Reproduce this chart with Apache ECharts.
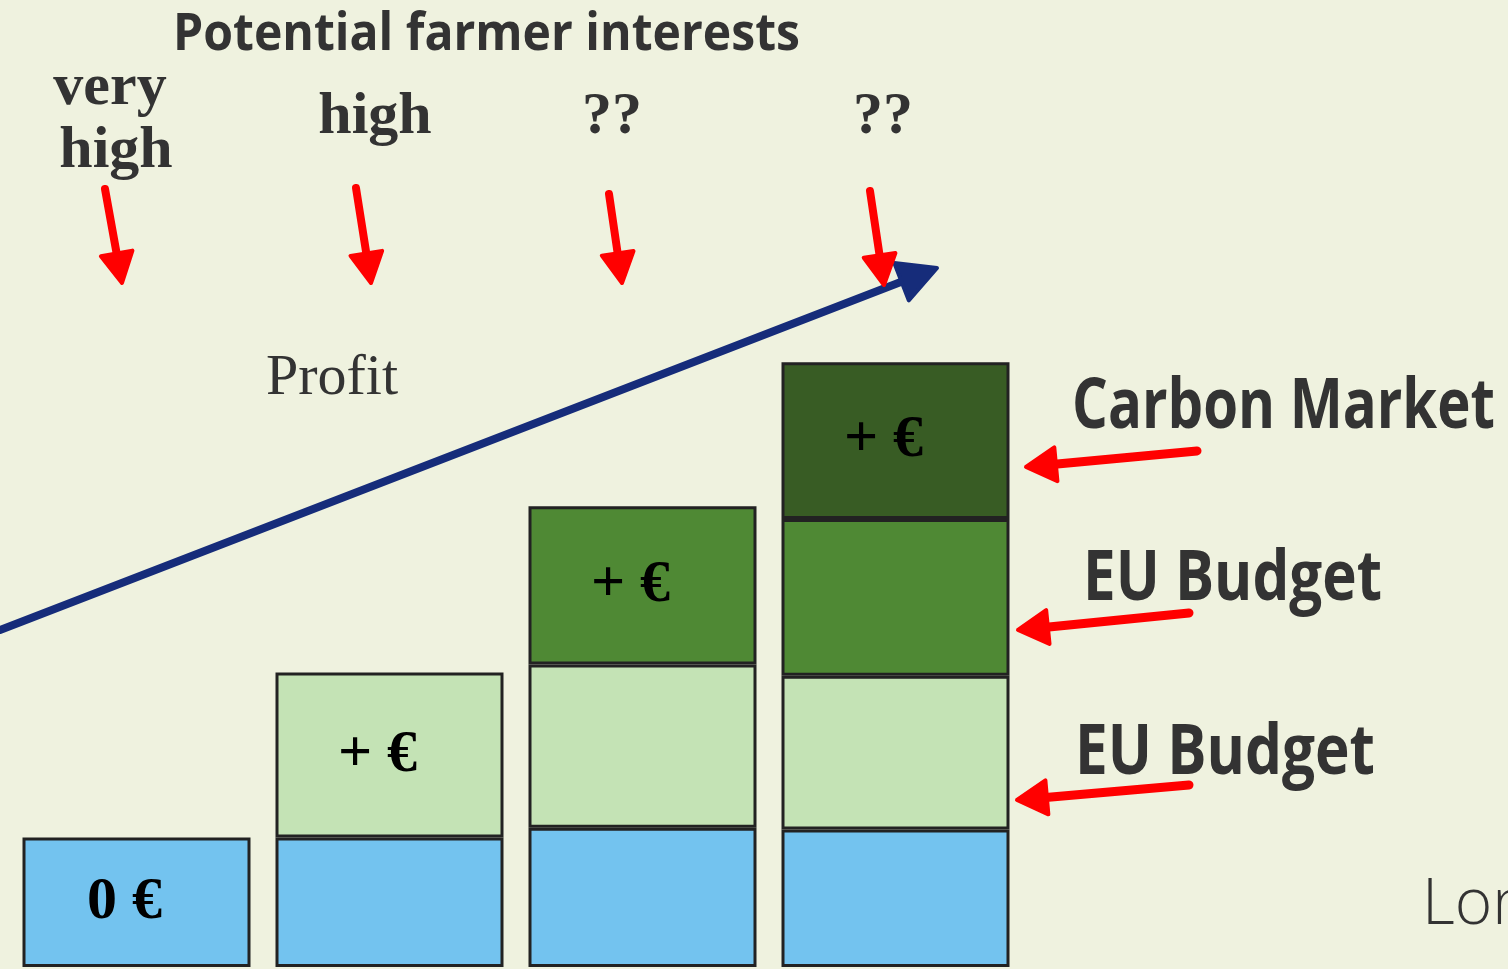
<!DOCTYPE html>
<html>
<head>
<meta charset="utf-8">
<script src="https://cdn.jsdelivr.net/npm/echarts@6/dist/echarts.min.js"></script>
<style>
  html, body { margin: 0; padding: 0; background: #eff2df; }
  #chart { width: 1508px; height: 969px; }
</style>
</head>
<body>
<div id="chart"></div>
<script>
// stacked steps, arbitrary units
const categories = ["step1", "step2", "step3", "step4"];
const baseValues = [0.81, 0.81, 0.87, 0.86];
const budget1Values = ["-", 1.03, 1.02, 0.96];
const budget2Values = ["-", "-", 0.99, 0.98];
const carbonValues = ["-", "-", "-", 0.98];

const baseLabels = ["0 €", "", "", ""];
const budget1Labels = ["", "+ €", "", ""];
const budget2Labels = ["", "", "+ €", ""];
const carbonLabels = ["", "", "", "+ €"];

const chart = echarts.init(document.getElementById("chart"));

const SERIF = "'Liberation Serif', 'DejaVu Serif', serif";
const SANS = "'Open Sans', 'Noto Sans', sans-serif";

const measureCtx = document.createElement("canvas").getContext("2d");

// arrow = line + triangular head
function arrow (sx, sy, tx, ty, color, width, headLen, headHalf) {
  const dx = tx - sx, dy = ty - sy;
  const len = Math.sqrt(dx * dx + dy * dy);
  const ux = dx / len, uy = dy / len;
  const nx = -uy, ny = ux;
  const bx = tx - ux * headLen, by = ty - uy * headLen;
  return [
    {
      type: "line",
      shape: { x1: sx, y1: sy, x2: bx + ux * 4, y2: by + uy * 4 },
      style: { stroke: color, lineWidth: width, lineCap: "round" },
    },
    {
      type: "polygon",
      shape: { points: [[tx, ty], [bx + nx * headHalf, by + ny * headHalf], [bx - nx * headHalf, by - ny * headHalf]] },
      style: { fill: color, stroke: color, lineWidth: 4, lineJoin: "round" },
    },
  ];
}

function txt (x, y, text, font, size, weight, align) {
  return {
    type: "text",
    x: x,
    y: y,
    style: {
      text: text,
      fill: "#333333",
      font: weight + " " + size + "px " + font,
      textAlign: align || "center",
      textVerticalAlign: "middle",
    },
  };
}

// text squeezed to a given width (the original uses a condensed face)
function fitTxt (left, y, text, font, size, weight, width) {
  const f = weight + " " + size + "px " + font;
  measureCtx.font = f;
  const w = measureCtx.measureText(text).width;
  return {
    type: "text",
    x: left,
    y: y,
    scaleX: width / w,
    style: {
      text: text,
      fill: "#333333",
      font: f,
      textAlign: "left",
      textVerticalAlign: "middle",
    },
  };
}

const labelStyle = (labels) => ({
  show: true,
  position: "inside",
  offset: [-12, 0],
  formatter: (p) => labels[p.dataIndex],
  color: "#000",
  fontFamily: SERIF,
  fontWeight: "bold",
  fontSize: 60,
});

const barStyle = (color) => ({
  color: color,
  borderColor: "#222222",
  borderWidth: 3,
});

let graphics = [
  fitTxt(173, 35, "Potential farmer interests", SANS, 52, "bold", 627),
  txt(110, 88, "very", SERIF, 60, "bold"),
  txt(116, 151, "high", SERIF, 60, "bold"),
  txt(375, 117, "high", SERIF, 60, "bold"),
  txt(612, 117, "??", SERIF, 60, "bold"),
  txt(883, 117, "??", SERIF, 60, "bold"),
  txt(332, 379, "Profit", SERIF, 58, "normal"),
  fitTxt(1072, 408, "Carbon Market", SANS, 70, "bold", 423),
  fitTxt(1083, 580, "EU Budget", SANS, 70, "bold", 299),
  fitTxt(1075, 754, "EU Budget", SANS, 70, "bold", 300),
  txt(1422, 906, "Lon", SANS, 64, "300", "left"),
];
graphics = graphics
  .concat(arrow(0, 630, 937, 268, "#162c7a", 8, 38, 20))
  .concat(arrow(105, 189, 122, 283, "#ff0000", 8, 30, 16))
  .concat(arrow(356, 188, 371, 283, "#ff0000", 8, 30, 16))
  .concat(arrow(609, 194, 622, 283, "#ff0000", 8, 30, 16))
  .concat(arrow(870, 191, 884, 285, "#ff0000", 8, 30, 16))
  .concat(arrow(1197, 451, 1026, 467, "#ff0000", 9, 30, 17))
  .concat(arrow(1189, 613, 1018, 630, "#ff0000", 9, 30, 17))
  .concat(arrow(1189, 785, 1017, 800, "#ff0000", 9, 30, 17));

const option = {
  backgroundColor: "#eff2df",
  animation: false,
  grid: { left: 10, right: 486, top: 167, bottom: 2 },
  xAxis: { type: "category", data: categories, show: false },
  yAxis: { type: "value", min: 0, max: 5, show: false },
  series: [
    { type: "bar", stack: "s", barWidth: 228, data: baseValues, itemStyle: barStyle("#73c3ef"), label: labelStyle(baseLabels) },
    { type: "bar", stack: "s", barWidth: 228, data: budget1Values, itemStyle: barStyle("#c4e3b5"), label: labelStyle(budget1Labels) },
    { type: "bar", stack: "s", barWidth: 228, data: budget2Values, itemStyle: barStyle("#4f8934"), label: labelStyle(budget2Labels) },
    { type: "bar", stack: "s", barWidth: 228, data: carbonValues, itemStyle: barStyle("#385c24"), label: labelStyle(carbonLabels) },
  ],
  graphic: graphics,
};

chart.setOption(option);
</script>
</body>
</html>
